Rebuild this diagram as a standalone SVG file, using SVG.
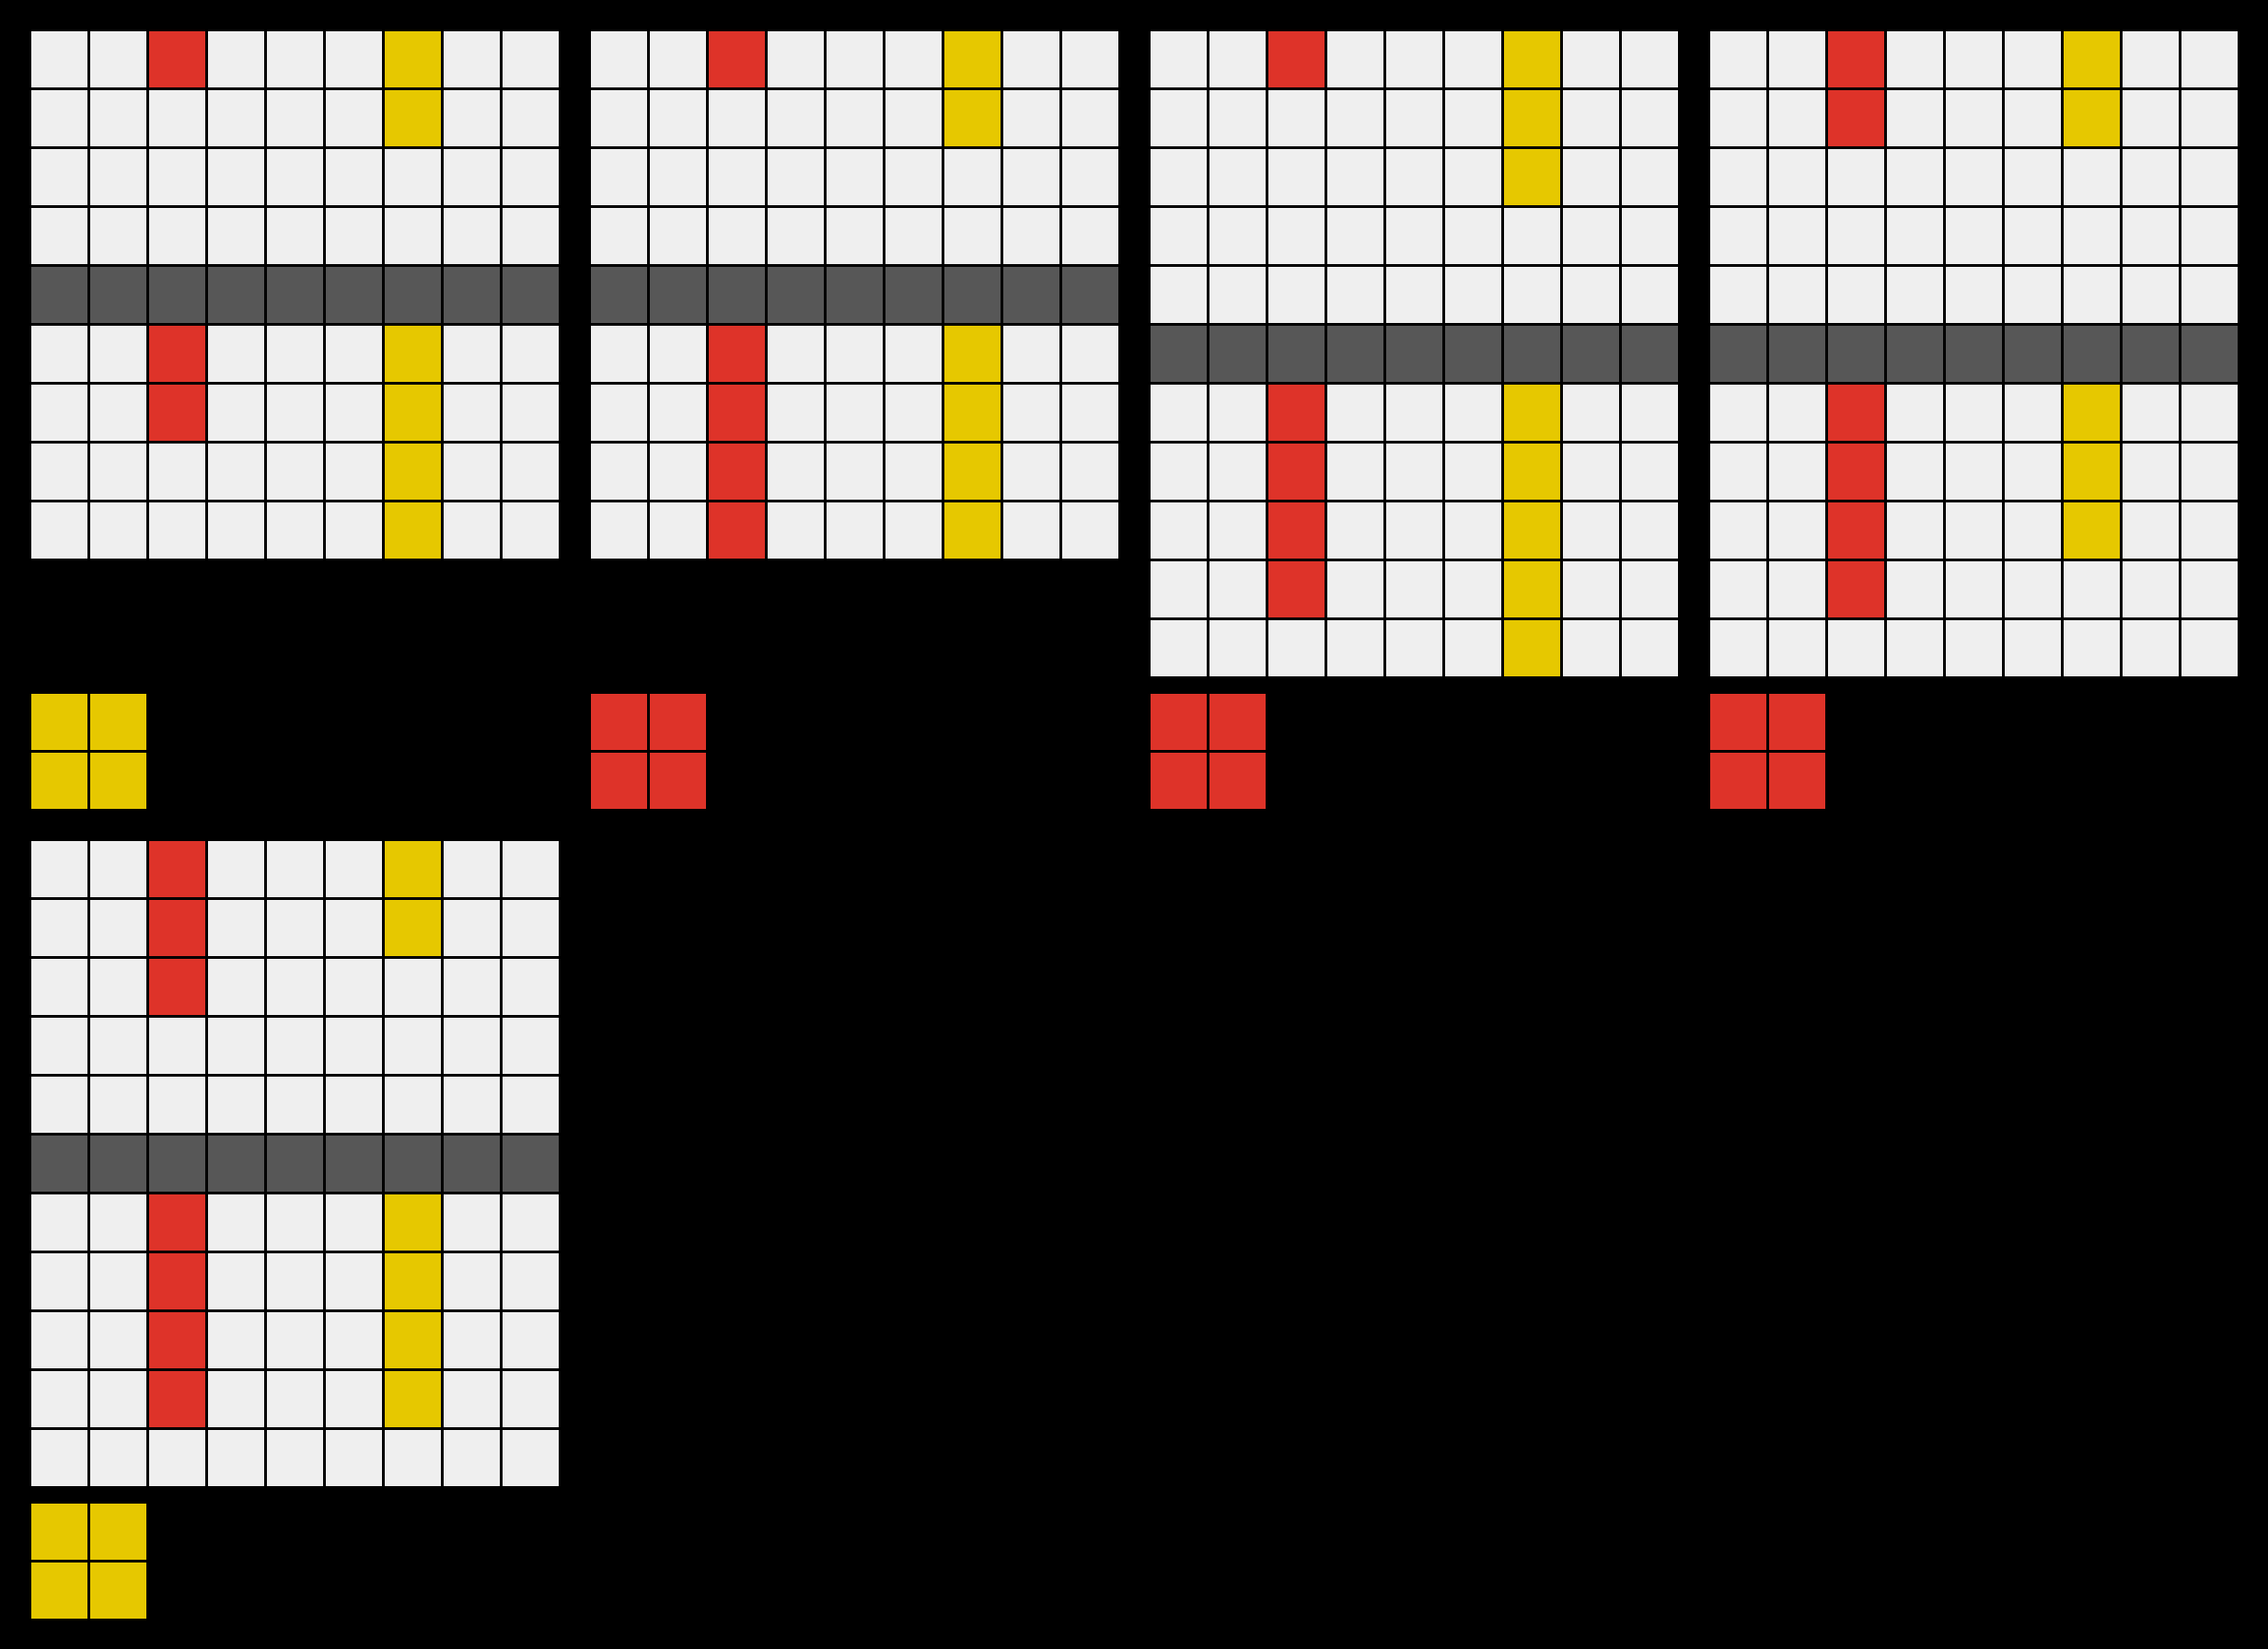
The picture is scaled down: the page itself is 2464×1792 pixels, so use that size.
<svg xmlns="http://www.w3.org/2000/svg" xmlns:xlink="http://www.w3.org/1999/xlink" width="2464" height="1792" viewBox="0 0 2464 1792">
<style>
.bg{fill:#efefef}
.r{fill:#de3329}
.y{fill:#e6c800}
.g{fill:#575757}
.ln{stroke:#000;stroke-width:3;fill:none}
</style>
<defs>
<path id="lines9" class="ln" d="M64.5 2V575M128.5 2V575M192.5 2V575M256.5 2V575M320.5 2V575M384.5 2V575M448.5 2V575M512.5 2V575M2 64.5H575M2 128.5H575M2 192.5H575M2 256.5H575M2 320.5H575M2 384.5H575M2 448.5H575M2 512.5H575"/>
<path id="lines11" class="ln" d="M64.5 2V703M128.5 2V703M192.5 2V703M256.5 2V703M320.5 2V703M384.5 2V703M448.5 2V703M512.5 2V703M2 64.5H575M2 128.5H575M2 192.5H575M2 256.5H575M2 320.5H575M2 384.5H575M2 448.5H575M2 512.5H575M2 576.5H575M2 640.5H575"/>
<path id="lines2" class="ln" d="M64.5 2V127M2 64.5H127"/>
</defs>
<rect x="0" y="0" width="2464" height="1792" fill="#000"/>

<g id="grid1" transform="translate(32,32)">
<rect class="bg" x="2" y="2" width="573" height="573"/>
<rect class="g" x="2" y="258" width="573" height="61"/>
<rect class="r" x="130" y="2" width="61" height="61"/>
<rect class="r" x="130" y="322" width="61" height="125"/>
<rect class="y" x="386" y="2" width="61" height="125"/>
<rect class="y" x="386" y="322" width="61" height="253"/>
<use xlink:href="#lines9" href="#lines9"/>
</g>

<g id="grid2" transform="translate(640,32)">
<rect class="bg" x="2" y="2" width="573" height="573"/>
<rect class="g" x="2" y="258" width="573" height="61"/>
<rect class="r" x="130" y="2" width="61" height="61"/>
<rect class="r" x="130" y="322" width="61" height="253"/>
<rect class="y" x="386" y="2" width="61" height="125"/>
<rect class="y" x="386" y="322" width="61" height="253"/>
<use xlink:href="#lines9" href="#lines9"/>
</g>

<g id="grid3" transform="translate(1248,32)">
<rect class="bg" x="2" y="2" width="573" height="701"/>
<rect class="g" x="2" y="322" width="573" height="61"/>
<rect class="r" x="130" y="2" width="61" height="61"/>
<rect class="r" x="130" y="386" width="61" height="253"/>
<rect class="y" x="386" y="2" width="61" height="189"/>
<rect class="y" x="386" y="386" width="61" height="317"/>
<use xlink:href="#lines11" href="#lines11"/>
</g>

<g id="grid4" transform="translate(1856,32)">
<rect class="bg" x="2" y="2" width="573" height="701"/>
<rect class="g" x="2" y="322" width="573" height="61"/>
<rect class="r" x="130" y="2" width="61" height="125"/>
<rect class="r" x="130" y="386" width="61" height="253"/>
<rect class="y" x="386" y="2" width="61" height="125"/>
<rect class="y" x="386" y="386" width="61" height="189"/>
<use xlink:href="#lines11" href="#lines11"/>
</g>

<g id="small1" transform="translate(32,752)">
<rect class="y" x="2" y="2" width="125" height="125"/>
<use xlink:href="#lines2" href="#lines2"/>
</g>
<g id="small2" transform="translate(640,752)">
<rect class="r" x="2" y="2" width="125" height="125"/>
<use xlink:href="#lines2" href="#lines2"/>
</g>
<g id="small3" transform="translate(1248,752)">
<rect class="r" x="2" y="2" width="125" height="125"/>
<use xlink:href="#lines2" href="#lines2"/>
</g>
<g id="small4" transform="translate(1856,752)">
<rect class="r" x="2" y="2" width="125" height="125"/>
<use xlink:href="#lines2" href="#lines2"/>
</g>

<g id="grid5" transform="translate(32,912)">
<rect class="bg" x="2" y="2" width="573" height="701"/>
<rect class="g" x="2" y="322" width="573" height="61"/>
<rect class="r" x="130" y="2" width="61" height="189"/>
<rect class="r" x="130" y="386" width="61" height="253"/>
<rect class="y" x="386" y="2" width="61" height="125"/>
<rect class="y" x="386" y="386" width="61" height="253"/>
<use xlink:href="#lines11" href="#lines11"/>
</g>

<g id="small5" transform="translate(32,1632)">
<rect class="y" x="2" y="2" width="125" height="125"/>
<use xlink:href="#lines2" href="#lines2"/>
</g>
</svg>
